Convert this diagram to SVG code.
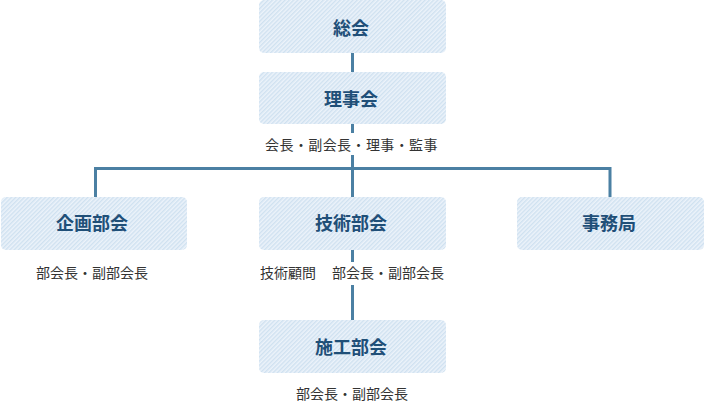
<svg xmlns="http://www.w3.org/2000/svg" width="705" height="403" viewBox="0 0 705 403">
<defs>
<pattern id="hatch" width="3" height="3" patternUnits="userSpaceOnUse" patternTransform="rotate(45)">
<rect width="3" height="3" fill="#ecf3fa"/>
<rect width="1.4" height="3" fill="#cfe1f0"/>
</pattern>
</defs>
<style>
.box{fill:url(#hatch);}
.bt{font-family:"Noto Sans CJK JP","Noto Sans",sans-serif;font-size:18px;font-weight:bold;fill:#1f4f78;text-anchor:middle;}
.lb{font-family:"Noto Sans CJK JP","Noto Sans",sans-serif;font-size:14px;fill:#333;text-anchor:middle;}
.ln{stroke:#4b80a3;stroke-width:3;fill:none;}
</style>
<g id="connectors">
<line class="ln" x1="352.5" y1="53" x2="352.5" y2="72"/>
<line class="ln" x1="352.5" y1="124" x2="352.5" y2="133"/>
<polyline class="ln" points="95.5,197 95.5,168.5 610,168.5 610,197"/>
<line class="ln" x1="352.5" y1="155" x2="352.5" y2="197"/>
<line class="ln" x1="352.5" y1="250" x2="352.5" y2="262"/>
<line class="ln" x1="352.5" y1="285" x2="352.5" y2="320"/>
</g>
<g id="soukai">
<rect class="box" x="259" y="0" width="187" height="53" rx="5"/>
<text class="bt" x="351" y="27" dominant-baseline="central">総会</text>
</g>
<g id="rijikai">
<rect class="box" x="259" y="72" width="187" height="52" rx="5"/>
<text class="bt" x="351" y="98" dominant-baseline="central">理事会</text>
<text class="lb" x="351.5" y="144" dominant-baseline="central" letter-spacing="0.4">会長・副会長・理事・監事</text>
</g>
<g id="kikaku">
<rect class="box" x="1" y="197" width="186" height="53" rx="5"/>
<text class="bt" x="92" y="222" dominant-baseline="central">企画部会</text>
<text class="lb" x="92" y="272" dominant-baseline="central">部会長・副部会長</text>
</g>
<g id="gijutsu">
<rect class="box" x="259" y="197" width="187" height="53" rx="5"/>
<text class="bt" x="351" y="222" dominant-baseline="central">技術部会</text>
<text class="lb" x="288" y="272" dominant-baseline="central">技術顧問</text>
<text class="lb" x="388" y="272" dominant-baseline="central">部会長・副部会長</text>
</g>
<g id="jimukyoku">
<rect class="box" x="517" y="197" width="187" height="53" rx="5"/>
<text class="bt" x="609" y="222" dominant-baseline="central">事務局</text>
</g>
<g id="sekou">
<rect class="box" x="259" y="320" width="187" height="53" rx="5"/>
<text class="bt" x="351" y="346" dominant-baseline="central">施工部会</text>
<text class="lb" x="352" y="393" dominant-baseline="central">部会長・副部会長</text>
</g>
</svg>
